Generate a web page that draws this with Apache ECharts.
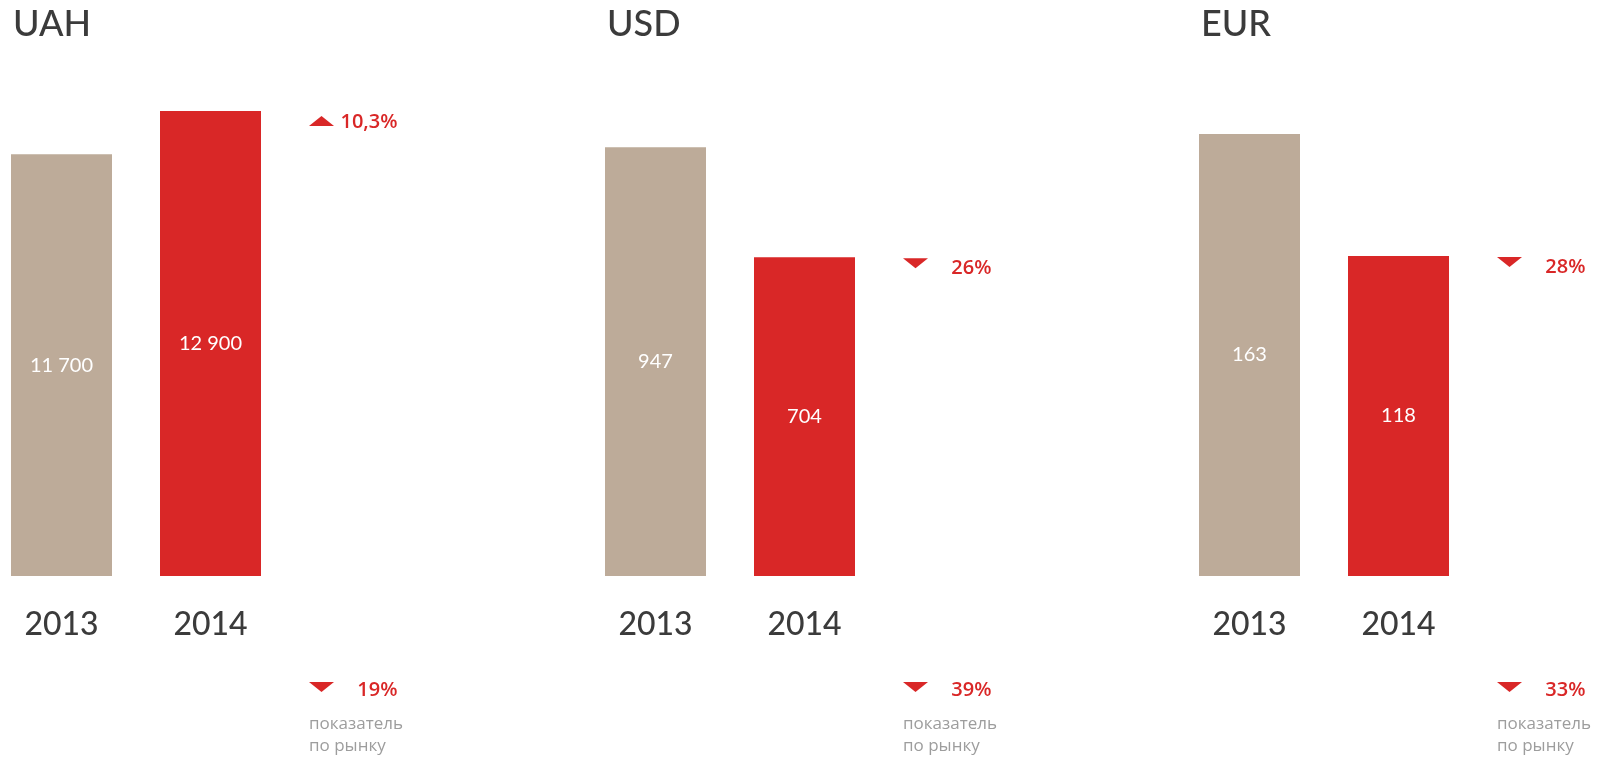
<!DOCTYPE html>
<html>
<head>
<meta charset="utf-8">
<script src="https://cdn.jsdelivr.net/npm/echarts@6/dist/echarts.min.js"></script>
<style>
  html, body { margin: 0; padding: 0; background: #fff; }
  #chart { width: 1604px; height: 760px; }
</style>
</head>
<body>
<div id="chart"></div>
<script>
// currencies (one panel each)
const panels = ['UAH', 'USD', 'EUR'];
const years = ['2013', '2014'];
const values2013 = [11700, 947, 163];
const values2014 = [12900, 704, 118];
// change 2014 vs 2013
const changeLabels = ['10,3%', '26%', '28%'];
const changeUp = [true, false, false];
// market change
const marketLabels = ['19%', '39%', '33%'];
const marketUp = [false, false, false];
const marketNote = ['показатель', 'по рынку'];

const TAN = '#bdab99';
const RED = '#d92727';
const DARK = '#3b3b3b';
const GREY = '#9d9d9d';

// layout per panel
const gridLeft = [-13, 581, 1175];
const axisMax = [13316, 1060, 177];
const band = 149;

const UP = 'path://M0,10L12.5,0L25,10Z';
const DOWN = 'path://M0,0L25,0L12.5,10Z';

function fmt(v) {
  return String(v).replace(/\B(?=(\d{3})+(?!\d))/g, ' ');
}

let chart = echarts.init(document.getElementById('chart'));

let option = {
  backgroundColor: '#fff',
  animation: false,
  title: [],
  grid: [],
  xAxis: [],
  yAxis: [],
  series: []
};

panels.forEach(function (name, i) {
  option.title.push({
    text: name,
    left: gridLeft[i] + 26,
    top: 6,
    padding: 0,
    textStyle: { fontFamily: 'Lato', fontSize: 36, fontWeight: 500, color: DARK }
  });
  option.grid.push({
    left: gridLeft[i],
    width: band * 3,
    top: 96,
    bottom: 184,
    containLabel: false,
    outerBoundsMode: 'none'
  });
  option.xAxis.push({
    type: 'category',
    gridIndex: i,
    data: years.concat(['']),
    axisLine: { show: false },
    axisTick: { show: false },
    axisLabel: {
      margin: 33,
      fontFamily: 'Lato',
      fontSize: 32,
      fontWeight: 500,
      color: DARK
    }
  });
  option.yAxis.push({
    type: 'value',
    gridIndex: i,
    min: 0,
    max: axisMax[i],
    show: false,
    splitLine: { show: false }
  });
  // bars
  option.series.push({
    type: 'bar',
    xAxisIndex: i,
    yAxisIndex: i,
    barWidth: 101,
    data: [
      { value: values2013[i], itemStyle: { color: TAN } },
      { value: values2014[i], itemStyle: { color: RED } }
    ],
    label: {
      show: true,
      position: 'inside',
      color: '#fff',
      fontFamily: 'Lato',
      fontSize: 20,
      fontWeight: 'normal',
      formatter: function (p) { return fmt(p.value); }
    }
  });
  // arrow next to 2014 bar top
  option.series.push({
    type: 'scatter',
    xAxisIndex: i,
    yAxisIndex: i,
    symbol: changeUp[i] ? UP : DOWN,
    symbolSize: [25, 10],
    symbolOffset: [-38, changeUp[i] ? 10 : 6],
    itemStyle: { color: RED, opacity: 1 },
    data: [[2, values2014[i]]]
  });
  // change percentage
  option.series.push({
    type: 'scatter',
    xAxisIndex: i,
    yAxisIndex: i,
    symbolSize: 1,
    itemStyle: { color: 'rgba(0,0,0,0)', opacity: 1 },
    label: {
      show: true,
      position: 'inside',
      align: 'right',
      offset: [38, 11],
      fontFamily: 'Open Sans',
      fontWeight: 600,
      fontSize: 20,
      color: RED,
      formatter: changeLabels[i]
    },
    data: [[2, values2014[i]]]
  });
});

chart.setOption(option);

// market note under each panel, placed from the third category position
let graphic = [];
panels.forEach(function (name, i) {
  let p = chart.convertToPixel({ gridIndex: i }, [2, 0]);
  let x0 = p[0] - 50.5;
  let y0 = p[1];
  graphic.push({
    type: 'polygon',
    shape: {
      points: marketUp[i]
        ? [[x0, y0 + 116], [x0 + 12.5, y0 + 106], [x0 + 25, y0 + 116]]
        : [[x0, y0 + 106], [x0 + 25, y0 + 106], [x0 + 12.5, y0 + 116]]
    },
    style: { fill: RED }
  });
  graphic.push({
    type: 'text',
    x: p[0] + 38,
    y: y0 + 114,
    style: {
      text: marketLabels[i],
      align: 'right',
      verticalAlign: 'middle',
      font: '600 20px "Open Sans"',
      fill: RED
    }
  });
  graphic.push({
    type: 'text',
    x: x0,
    y: y0 + 159,
    style: {
      text: marketNote.join('\n'),
      verticalAlign: 'middle',
      lineHeight: 22,
      font: '17px "Open Sans"',
      fill: GREY
    }
  });
});
chart.setOption({ graphic: graphic });

window.onresize = chart.resize;
</script>
</body>
</html>
